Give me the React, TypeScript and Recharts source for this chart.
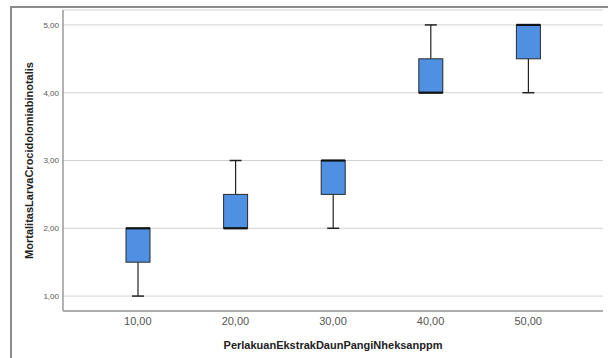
import React from 'react';
import { ComposedChart, Bar, XAxis, YAxis, CartesianGrid, Label } from 'recharts';

const categories = ['10,00', '20,00', '30,00', '40,00', '50,00'];
const minValues = [1, 2, 2, 4, 4];
const q1Values = [1.5, 2, 2.5, 4, 4.5];
const medianValues = [2, 2, 3, 4, 5];
const q3Values = [2, 2.5, 3, 4.5, 5];
const maxValues = [2, 3, 3, 5, 5];
const yTicks = [1, 2, 3, 4, 5];

const data = categories.map((c, i) => ({
  label: c,
  min: minValues[i],
  q1: q1Values[i],
  median: medianValues[i],
  q3: q3Values[i],
  max: maxValues[i],
  range: [minValues[i], maxValues[i]],
}));

const fmt = (v: number) => v.toFixed(2).replace('.', ',');

const BoxShape = (props: any) => {
  const { x, y, width, height, payload } = props;
  const { min, q1, median, q3, max } = payload;
  const span = max - min;
  const pix = (v: number) => y + (height * (max - v)) / span;
  const cx = x + width / 2;
  const capHalf = 6;
  const yMin = pix(min);
  const yMax = pix(max);
  const yQ1 = pix(q1);
  const yQ3 = pix(q3);
  const yMed = pix(median);
  return (
    <g>
      {max > q3 && (
        <g>
          <line x1={cx} x2={cx} y1={yMax} y2={yQ3} stroke="#222" strokeWidth={1.2} />
          <line x1={cx - capHalf} x2={cx + capHalf} y1={yMax} y2={yMax} stroke="#222" strokeWidth={1.5} />
        </g>
      )}
      {min < q1 && (
        <g>
          <line x1={cx} x2={cx} y1={yQ1} y2={yMin} stroke="#222" strokeWidth={1.2} />
          <line x1={cx - capHalf} x2={cx + capHalf} y1={yMin} y2={yMin} stroke="#222" strokeWidth={1.5} />
        </g>
      )}
      <rect x={x} y={yQ3} width={width} height={yQ1 - yQ3} fill="#4f90e2" stroke="#2a2a2a" strokeWidth={1} />
      <line x1={x} x2={x + width} y1={yMed} y2={yMed} stroke="#111" strokeWidth={2.2} />
    </g>
  );
};

export default function App() {
  return (
    <div style={{ position: 'absolute', left: 0, top: 0, width: 608, height: 358, background: '#fff', overflow: 'hidden' }}>
      <div
        style={{
          position: 'absolute',
          left: 10,
          top: 6,
          width: 620,
          height: 380,
          borderLeft: '2px solid #8c8c8c',
          borderTop: '2px solid #8c8c8c',
        }}
      />
      <div style={{ position: 'absolute', left: 0, top: 0 }}>
        <ComposedChart
          width={608}
          height={358}
          data={data}
          margin={{ top: 10, right: 5, bottom: 0, left: 0 }}
          style={{ fontFamily: 'Liberation Sans, Arial, sans-serif' }}
        >
          <CartesianGrid horizontal vertical={false} stroke="#d2d2d2" strokeWidth={1} />
          <XAxis
            dataKey="label"
            type="category"
            padding={{ left: 26, right: 26 }}
            height={47}
            axisLine={{ stroke: '#9a9a9a', strokeWidth: 1.5 }}
            tickLine={false}
            tickSize={5}
            tickMargin={1}
            tick={{ fontSize: 11, fill: '#555' }}
          >
            <Label
              content={(p: any) => {
                const vb = p.viewBox;
                return (
                  <text
                    x={vb.x + vb.width / 2}
                    y={349}
                    textAnchor="middle"
                    fontSize={11}
                    fontWeight="bold"
                    fill="#222"
                  >
                    PerlakuanEkstrakDaunPangiNheksanppm
                  </text>
                );
              }}
            />
          </XAxis>
          <YAxis
            type="number"
            domain={[0.78, 5.22]}
            ticks={yTicks}
            allowDataOverflow
            width={63}
            axisLine={{ stroke: '#9a9a9a', strokeWidth: 1.5 }}
            tickLine={false}
            tickSize={4}
            tickMargin={0}
            tickFormatter={fmt}
            tick={{ fontSize: 8, fill: '#555' }}
          >
            <Label
              content={(p: any) => {
                const vb = p.viewBox;
                const cy = vb.y + vb.height / 2;
                return (
                  <text
                    x={33}
                    y={cy}
                    transform={`rotate(-90, 33, ${cy})`}
                    textAnchor="middle"
                    fontSize={11}
                    fontWeight="bold"
                    fill="#222"
                  >
                    MortalitasLarvaCrocidolomiabinotalis
                  </text>
                );
              }}
            />
          </YAxis>
          <Bar dataKey="range" barSize={24} shape={BoxShape} isAnimationActive={false} />
        </ComposedChart>
      </div>
    </div>
  );
}
